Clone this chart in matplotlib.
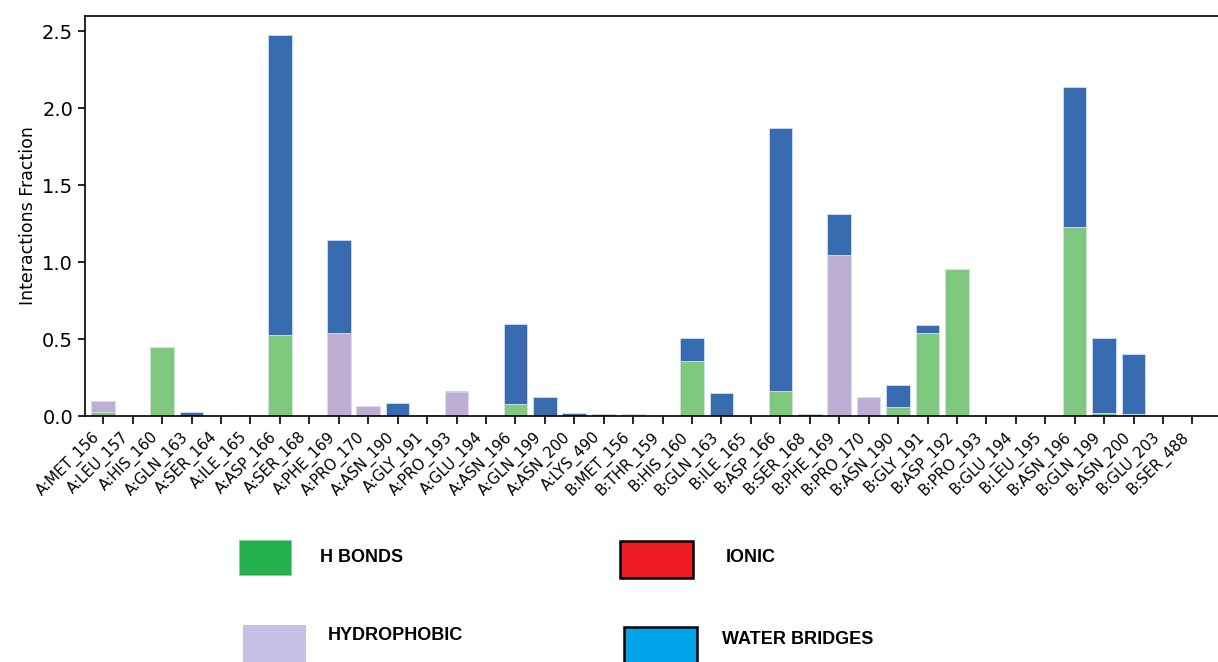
import numpy as np
import matplotlib
matplotlib.use('Agg')
import matplotlib.pyplot as plt
from matplotlib.patches import Rectangle

# residues on the x axis
residues = ['A:MET_156', 'A:LEU_157', 'A:HIS_160', 'A:GLN_163', 'A:SER_164', 'A:ILE_165',
            'A:ASP_166', 'A:SER_168', 'A:PHE_169', 'A:PRO_170', 'A:ASN_190', 'A:GLY_191',
            'A:PRO_193', 'A:GLU_194', 'A:ASN_196', 'A:GLN_199', 'A:ASN_200', 'A:LYS_490',
            'B:MET_156', 'B:THR_159', 'B:HIS_160', 'B:GLN_163', 'B:ILE_165', 'B:ASP_166',
            'B:SER_168', 'B:PHE_169', 'B:PRO_170', 'B:ASN_190', 'B:GLY_191', 'B:ASP_192',
            'B:PRO_193', 'B:GLU_194', 'B:LEU_195', 'B:ASN_196', 'B:GLN_199', 'B:ASN_200',
            'B:GLU_203', 'B:SER_488']

# interaction fractions
h_bonds = [0.025, 0, 0.45, 0, 0, 0,
           0.525, 0, 0, 0, 0, 0.003,
           0, 0, 0.078, 0, 0, 0,
           0, 0, 0.357, 0, 0, 0.165,
           0, 0, 0, 0.056, 0.537, 0.957,
           0, 0, 0, 1.227, 0.02, 0.01,
           0, 0]
hydrophobic = [0.075, 0, 0, 0, 0, 0.008,
               0, 0, 0.54, 0.067, 0, 0,
               0.155, 0, 0, 0, 0, 0,
               0.012, 0, 0, 0, 0, 0,
               0, 1.045, 0.123, 0, 0, 0,
               0, 0, 0, 0, 0, 0,
               0, 0]
ionic = [0] * 38
water_bridges = [0, 0, 0, 0.025, 0, 0,
                 1.95, 0, 0.605, 0, 0.082, 0.006,
                 0.01, 0, 0.52, 0.121, 0.017, 0.015,
                 0.004, 0, 0.152, 0.149, 0, 1.705,
                 0.015, 0.27, 0, 0.147, 0.054, 0,
                 0, 0, 0, 0.91, 0.49, 0.39,
                 0, 0]

fig = plt.figure(figsize=(12.18, 6.62), dpi=100)
ax = fig.add_axes([85 / 1218, 1 - 416 / 662, 1.002 - 85 / 1218, 400 / 662])

x = np.arange(len(residues))
bottom = np.zeros(len(residues))
series = [(h_bonds, '#7fc97f'), (hydrophobic, '#beaed4'), (ionic, '#fdc086'), (water_bridges, '#386cb0')]
for vals, col in series:
    vals = np.array(vals, dtype=float)
    ax.bar(x, vals, 0.8, bottom=bottom, color=col, edgecolor='#d8dcf0', linewidth=0.6)
    bottom += vals

ax.set_xlim(-0.62, 37.95)
ax.set_ylim(0, 2.6)
ax.set_yticks([0, 0.5, 1.0, 1.5, 2.0, 2.5])
ax.set_xticks(x)
ax.set_xticklabels(residues, rotation=45, ha='right', fontsize=10.8)
ax.tick_params(axis='y', labelsize=14, length=5, width=1.2)
ax.tick_params(axis='x', length=6, width=1.2)
ax.set_ylabel('Interactions Fraction', fontsize=12.5, labelpad=4)
for s in ['left', 'top', 'bottom']:
    ax.spines[s].set_linewidth(1.2)
ax.spines['right'].set_visible(False)

# pasted legend below the chart
W, H = 1218, 662
def box(x0, y0, x1, y1, fc, ec, lw):
    fig.add_artist(Rectangle((x0 / W, 1 - y1 / H), (x1 - x0) / W, (y1 - y0) / H,
                             transform=fig.transFigure, facecolor=fc, edgecolor=ec,
                             linewidth=lw))

def label(x0, yc, txt):
    fig.text(x0 / W, 1 - yc / H, txt, fontsize=13, fontweight='bold',
             family='Liberation Sans', va='center', ha='left')

box(239, 540, 291, 575, '#22b14c', '#7fd49a', 0.6)
label(320, 558, 'H BONDS')
box(620, 541, 693, 578, '#ed1c24', 'black', 1.8)
label(726, 557, 'IONIC')
box(243, 625, 306, 664, '#c8bfe7', '#c8bfe7', 0)
label(328, 636, 'HYDROPHOBIC')
box(624, 627, 697, 664, '#00a2e8', 'black', 1.8)
label(722, 640, 'WATER BRIDGES')

fig.savefig('out.png', dpi=100)
